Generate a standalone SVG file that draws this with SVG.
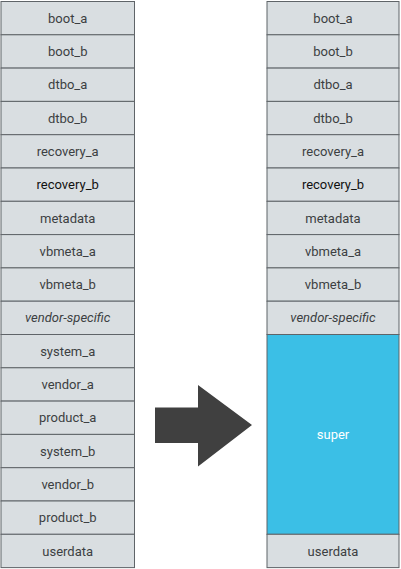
<svg xmlns="http://www.w3.org/2000/svg" width="401" height="569" viewBox="0 0 401 569">
<style>
.c{fill:#d9dee1;stroke:#5f6468;stroke-width:1}
.t{font-family:Roboto,"Liberation Sans",sans-serif;font-size:13px;fill:#3c3f42;text-anchor:middle;dominant-baseline:central}
.b{fill:#111}
.i{font-style:italic}
</style>
<rect width="401" height="569" fill="#fff"/>
<g id="left">
<g id="l0"><rect class="c" x="1" y="1.5" width="133.5" height="33.3"/><text class="t" x="67.7" y="18.2">boot_a</text></g>
<g id="l1"><rect class="c" x="1" y="34.8" width="133.5" height="33.3"/><text class="t" x="67.7" y="51.5">boot_b</text></g>
<g id="l2"><rect class="c" x="1" y="68.1" width="133.5" height="33.3"/><text class="t" x="67.7" y="84.8">dtbo_a</text></g>
<g id="l3"><rect class="c" x="1" y="101.4" width="133.5" height="33.3"/><text class="t" x="67.7" y="118.1">dtbo_b</text></g>
<g id="l4"><rect class="c" x="1" y="134.7" width="133.5" height="33.3"/><text class="t" x="67.7" y="151.4">recovery_a</text></g>
<g id="l5"><rect class="c" x="1" y="168" width="133.5" height="33.3"/><text class="t b" x="67.7" y="184.7">recovery_b</text></g>
<g id="l6"><rect class="c" x="1" y="201.3" width="133.5" height="33.3"/><text class="t" x="67.7" y="218">metadata</text></g>
<g id="l7"><rect class="c" x="1" y="234.6" width="133.5" height="33.3"/><text class="t" x="67.7" y="251.3">vbmeta_a</text></g>
<g id="l8"><rect class="c" x="1" y="267.9" width="133.5" height="33.3"/><text class="t" x="67.7" y="284.6">vbmeta_b</text></g>
<g id="l9"><rect class="c" x="1" y="301.2" width="133.5" height="33.3"/><text class="t i" x="67.7" y="317.9">vendor-specific</text></g>
<g id="l10"><rect class="c" x="1" y="334.5" width="133.5" height="33.3"/><text class="t" x="67.7" y="351.2">system_a</text></g>
<g id="l11"><rect class="c" x="1" y="367.8" width="133.5" height="33.3"/><text class="t" x="67.7" y="384.5">vendor_a</text></g>
<g id="l12"><rect class="c" x="1" y="401.1" width="133.5" height="33.3"/><text class="t" x="67.7" y="417.8">product_a</text></g>
<g id="l13"><rect class="c" x="1" y="434.4" width="133.5" height="33.3"/><text class="t" x="67.7" y="451.1">system_b</text></g>
<g id="l14"><rect class="c" x="1" y="467.7" width="133.5" height="33.3"/><text class="t" x="67.7" y="484.4">vendor_b</text></g>
<g id="l15"><rect class="c" x="1" y="501" width="133.5" height="33.3"/><text class="t" x="67.7" y="517.7">product_b</text></g>
<g id="l16"><rect class="c" x="1" y="534.3" width="133.5" height="33.3"/><text class="t" x="67.7" y="551">userdata</text></g>
</g>
<g id="right">
<g id="r0"><rect class="c" x="267" y="1.5" width="132" height="33.3"/><text class="t" x="333" y="18.2">boot_a</text></g>
<g id="r1"><rect class="c" x="267" y="34.8" width="132" height="33.3"/><text class="t" x="333" y="51.5">boot_b</text></g>
<g id="r2"><rect class="c" x="267" y="68.1" width="132" height="33.3"/><text class="t" x="333" y="84.8">dtbo_a</text></g>
<g id="r3"><rect class="c" x="267" y="101.4" width="132" height="33.3"/><text class="t" x="333" y="118.1">dtbo_b</text></g>
<g id="r4"><rect class="c" x="267" y="134.7" width="132" height="33.3"/><text class="t" x="333" y="151.4">recovery_a</text></g>
<g id="r5"><rect class="c" x="267" y="168" width="132" height="33.3"/><text class="t b" x="333" y="184.7">recovery_b</text></g>
<g id="r6"><rect class="c" x="267" y="201.3" width="132" height="33.3"/><text class="t" x="333" y="218">metadata</text></g>
<g id="r7"><rect class="c" x="267" y="234.6" width="132" height="33.3"/><text class="t" x="333" y="251.3">vbmeta_a</text></g>
<g id="r8"><rect class="c" x="267" y="267.9" width="132" height="33.3"/><text class="t" x="333" y="284.6">vbmeta_b</text></g>
<g id="r9"><rect class="c" x="267" y="301.2" width="132" height="33.3"/><text class="t i" x="333" y="317.9">vendor-specific</text></g>
<g id="super"><rect x="267" y="334.5" width="132" height="199.8" fill="#3bbfe6" stroke="#5f6468" stroke-width="1"/><text class="t" x="333" y="434.4" style="fill:#fff">super</text></g>
<g id="r16"><rect class="c" x="267" y="534.3" width="132" height="33.3"/><text class="t" x="333" y="551">userdata</text></g>
</g>
<g id="connectors">
<polygon points="155,407.5 198,407.5 198,385 252,425 198,466.5 198,443 155,443" fill="#404040"/>
</g>
</svg>
